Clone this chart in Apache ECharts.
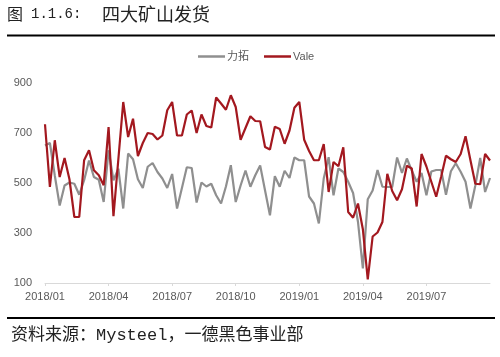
<!DOCTYPE html>
<html>
<head>
<meta charset="utf-8">
<script src="https://cdn.jsdelivr.net/npm/echarts@6/dist/echarts.min.js"></script>
<style>
html,body{margin:0;padding:0;background:#fff;}
#chart{width:500px;height:357px;}
</style>
</head>
<body>
<div id="chart"></div>
<script>
const titlePrefix = '图';
const titleNumber = '1.1.6:';
const titleMain = '四大矿山发货';
const sourceText = '资料来源：Mysteel，一德黑色事业部';
const seriesNames = ['力拓', 'Vale'];
const tickLabels = ['2018/01', '2018/04', '2018/07', '2018/10', '2019/01', '2019/04', '2019/07'];
const yTicks = [100, 300, 500, 700, 900];

const rioTinto = [650, 660, 530, 410, 490, 502, 497, 453, 511, 590, 524, 513, 424, 631, 511, 557, 398, 618, 595, 515,
  480, 565, 580, 544, 518, 480, 536, 398, 480, 563, 560, 422, 502, 486, 497, 451, 418, 486, 571, 424,
  490, 550, 485, 531, 570, 470, 371, 527, 485, 549, 520, 602, 591, 591, 446, 418, 338, 518, 603, 451,
  558, 544, 505, 460, 345, 158, 435, 470, 552, 485, 484, 484, 602, 540, 598, 550, 505, 540, 451, 546,
  552, 552, 453, 547, 579, 545, 505, 398, 490, 600, 464, 520];

const vale = [735, 484, 671, 524, 600, 515, 364, 364, 591, 631, 551, 531, 491, 724, 367, 595, 824, 684, 757, 608,
  660, 700, 696, 674, 690, 791, 824, 690, 690, 774, 790, 700, 774, 728, 722, 842, 818, 793, 851, 804,
  673, 720, 767, 748, 747, 644, 634, 725, 716, 657, 710, 801, 824, 673, 628, 591, 591, 656, 464, 584,
  567, 643, 384, 361, 418, 315, 114, 286, 302, 344, 537, 468, 431, 475, 569, 558, 406, 616, 566, 505,
  445, 524, 609, 595, 584, 616, 687, 591, 497, 495, 616, 590];

const weekIndex = vale.map((_, i) => i);
const TICK_STEP = 13;
const showTick = (i) => i % TICK_STEP === 0 && (i / TICK_STEP) < tickLabels.length;

const chart = echarts.init(document.getElementById('chart'), null, {renderer: 'canvas'});
const monoCJK = "'Liberation Mono','Noto Sans CJK SC',monospace";
const cjk = "'Noto Sans CJK SC',sans-serif";
const option = {
  animation: false,
  backgroundColor: '#ffffff',
  title: [
    {text: sourceText, left: 6, top: 322,
     textStyle: {fontSize: 17, fontWeight: 'normal', color: '#222', fontFamily: monoCJK}}
  ],
  graphic: [
    {type: 'text', left: 7, top: 6, style: {text: titlePrefix, fontSize: 16, fontFamily: cjk, fill: '#222'}},
    {type: 'text', left: 31, top: 7, style: {text: titleNumber, fontSize: 14, fontFamily: "'Liberation Mono',monospace", fill: '#222'}},
    {type: 'text', left: 102, top: 5, style: {text: titleMain, fontSize: 18, fontFamily: cjk, fill: '#222'}},
    {type: 'line', shape: {x1: 7, y1: 35.5, x2: 495, y2: 35.5}, style: {stroke: '#000', lineWidth: 2}},
    {type: 'line', shape: {x1: 7, y1: 318, x2: 495, y2: 318}, style: {stroke: '#000', lineWidth: 2}}
  ],
  legend: {
    left: 193, top: 46,
    icon: 'rect', itemWidth: 27, itemHeight: 2.5, itemGap: 15,
    textStyle: {fontSize: 11, color: '#595959', fontFamily: "'Liberation Sans','Noto Sans CJK SC',sans-serif", padding: [0, 0, 0, -3]},
    data: seriesNames
  },
  grid: {left: 45, right: 10, top: 83, bottom: 74, containLabel: false},
  xAxis: {
    type: 'category',
    data: weekIndex,
    boundaryGap: false,
    axisLine: {lineStyle: {color: '#D9D9D9', width: 1}},
    axisTick: {show: true, interval: (i) => showTick(i), length: 3, lineStyle: {color: '#D9D9D9'}},
    axisLabel: {
      interval: (i) => showTick(i),
      formatter: (v, i) => showTick(i) ? tickLabels[i / TICK_STEP] : '',
      fontSize: 11, color: '#595959', margin: 8,
      fontFamily: "'Liberation Sans',Arial,sans-serif"
    },
    splitLine: {show: false}
  },
  yAxis: {
    type: 'value',
    min: yTicks[0], max: yTicks[yTicks.length - 1], interval: yTicks[1] - yTicks[0],
    axisLine: {show: false}, axisTick: {show: false}, splitLine: {show: false},
    axisLabel: {fontSize: 11, color: '#595959', margin: 13, fontFamily: "'Liberation Sans',Arial,sans-serif"}
  },
  series: [
    {name: seriesNames[0], type: 'line', data: rioTinto, symbol: 'none', smooth: false,
     itemStyle: {color: '#8F8F8F'}, lineStyle: {color: '#8F8F8F', width: 2.2}},
    {name: seriesNames[1], type: 'line', data: vale, symbol: 'none', smooth: false,
     itemStyle: {color: '#A3181F'}, lineStyle: {color: '#A3181F', width: 2.2}}
  ]
};
chart.setOption(option);
</script>
</body>
</html>
